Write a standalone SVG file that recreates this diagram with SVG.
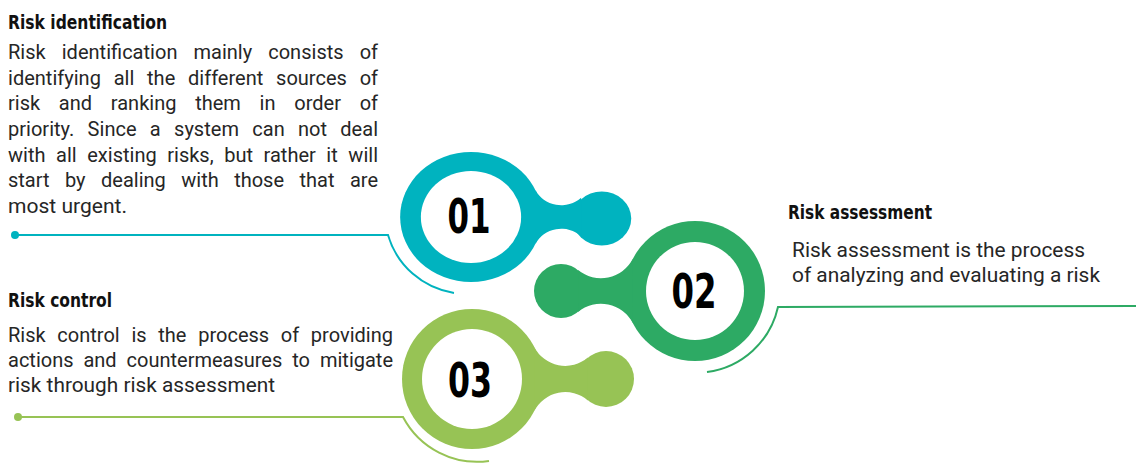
<svg xmlns="http://www.w3.org/2000/svg" width="1136" height="466" viewBox="0 0 1136 466">
<style>
.title{font-family:"DejaVu Sans","Liberation Sans",sans-serif;font-stretch:condensed;font-weight:bold;font-size:19px;fill:#111}
.body{font-family:Roboto,"Liberation Sans",sans-serif;font-size:20px;fill:#262626}
.num{font-family:"DejaVu Sans","Liberation Sans",sans-serif;font-stretch:condensed;font-weight:bold;font-size:48px;fill:#000;text-anchor:middle}
.c1{fill:#00B3BF}.c2{fill:#2DAA64}.c3{fill:#97C355}
.l1{stroke:#00B3BF}.l2{stroke:#2DAA64}.l3{stroke:#97C355}
.ln{fill:none;stroke-width:2}
</style>
<rect width="1136" height="466" fill="#fff"/>
<g id="connectors">
<circle cx="15" cy="235" r="4" class="c1"/>
<path class="ln l1" d="M15,235 H388 A82,82 0 0 0 454,293"/>
<path class="ln l2" d="M1136,306 L778,307 A84,84 0 0 1 707,372"/>
<circle cx="18" cy="417" r="4" class="c3"/>
<path class="ln l3" d="M18,417 H403 A84,84 0 0 0 489,461"/>
</g>
<g id="node-01">
<g transform="translate(471,217) scale(1.09,1)" class="c1">
<circle r="65"/>
<circle cx="120" cy="1.5" r="27"/>
<path d="M59.14,-26.96 A26,26 0 0 0 101.05,-19.23 L101.05,19.23 A26,26 0 0 0 59.14,26.96 Z"/>
<circle r="46" fill="#fff"/>
</g>
<text class="num" x="469" y="233" textLength="43" lengthAdjust="spacingAndGlyphs">01</text>
<text class="title" x="8" y="29" textLength="159" lengthAdjust="spacingAndGlyphs">Risk identification</text>
<text class="body" x="8" y="59" word-spacing="11" textLength="370" lengthAdjust="spacing">Risk identification mainly consists of</text>
<text class="body" x="8" y="84.7" word-spacing="7.8" textLength="370" lengthAdjust="spacing">identifying all the different sources of</text>
<text class="body" x="8" y="110.3" word-spacing="13.7" textLength="370" lengthAdjust="spacing">risk and ranking them in order of</text>
<text class="body" x="8" y="136" word-spacing="8.3" textLength="370" lengthAdjust="spacing">priority. Since a system can not deal</text>
<text class="body" x="8" y="161.7" word-spacing="5.6" textLength="370" lengthAdjust="spacing">with all existing risks, but rather it will</text>
<text class="body" x="8" y="187.3" word-spacing="10.5" textLength="370" lengthAdjust="spacing">start by dealing with those that are</text>
<text class="body" x="8" y="213" textLength="119" lengthAdjust="spacingAndGlyphs">most urgent.</text>
</g>
<g id="node-02">
<g transform="translate(695,291) scale(-1,1)" class="c2">
<circle r="70"/>
<circle cx="134" r="27"/>
<path d="M62.15,-32.2 A36,36 0 0 0 116.91,-20.9 L116.91,20.9 A36,36 0 0 0 62.15,32.2 Z"/>
<circle r="49" fill="#fff"/>
</g>
<text class="num" x="694" y="308" textLength="45" lengthAdjust="spacingAndGlyphs">02</text>
<text class="title" x="788" y="219" textLength="144" lengthAdjust="spacingAndGlyphs">Risk assessment</text>
<text class="body" x="792" y="257" textLength="293" lengthAdjust="spacingAndGlyphs">Risk assessment is the process</text>
<text class="body" x="792" y="282" textLength="308" lengthAdjust="spacingAndGlyphs">of analyzing and evaluating a risk</text>
</g>
<g id="node-03">
<g transform="translate(472,379)" class="c3">
<circle r="70"/>
<circle cx="134" r="28"/>
<path d="M62.22,-32.07 A35,35 0 0 0 115.93,-21.38 L115.93,21.38 A35,35 0 0 0 62.22,32.07 Z"/>
<circle r="50" fill="#fff"/>
</g>
<text class="num" x="470" y="397" textLength="44" lengthAdjust="spacingAndGlyphs">03</text>
<text class="title" x="8" y="306.7" textLength="104" lengthAdjust="spacingAndGlyphs">Risk control</text>
<text class="body" x="8" y="342" word-spacing="6.7" textLength="385" lengthAdjust="spacing">Risk control is the process of providing</text>
<text class="body" x="8" y="367" word-spacing="5" textLength="385" lengthAdjust="spacing">actions and countermeasures to mitigate</text>
<text class="body" x="8" y="392" textLength="267" lengthAdjust="spacingAndGlyphs">risk through risk assessment</text>
</g>
</svg>
